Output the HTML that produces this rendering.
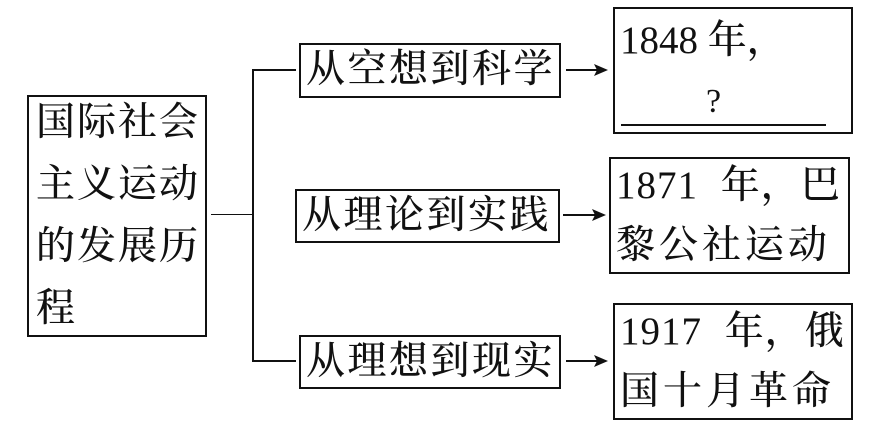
<!DOCTYPE html>
<html><head><meta charset="utf-8"><style>
body{margin:0;width:880px;height:426px;background:#fff;position:relative;overflow:hidden;font-family:"Liberation Serif","Noto Serif CJK SC",serif;color:#111}
.b{position:absolute;border:2px solid #111;box-sizing:border-box}
.t{position:absolute;font-size:39px;line-height:40px;white-space:nowrap;font-weight:500}
.l{position:absolute;background:#111}
</style></head><body>
<div class="b" style="left:27px;top:95px;width:180px;height:242px"></div>
<div class="t" style="left:36px;top:103px;letter-spacing:2px">国际社会</div>
<div class="t" style="left:36px;top:165px;letter-spacing:2px">主义运动</div>
<div class="t" style="left:36px;top:227px;letter-spacing:2px">的发展历</div>
<div class="t" style="left:36px;top:289px">程</div>

<div class="l" style="left:211px;top:214px;width:42px;height:1px"></div>
<div class="l" style="left:252px;top:69px;width:2px;height:293px"></div>
<div class="l" style="left:252px;top:69px;width:44px;height:2px"></div>
<div class="l" style="left:252px;top:360px;width:44px;height:2px"></div>

<div class="b" style="left:299px;top:43px;width:262px;height:55px"></div>
<div class="t" style="left:306px;top:50px;letter-spacing:2.5px">从空想到科学</div>
<div class="b" style="left:295px;top:189px;width:265px;height:54px"></div>
<div class="t" style="left:302px;top:196px;letter-spacing:2.5px">从理论到实践</div>
<div class="b" style="left:299px;top:335px;width:262px;height:54px"></div>
<div class="t" style="left:306px;top:342px;letter-spacing:2.5px">从理想到现实</div>

<svg style="position:absolute;left:0;top:0" width="880" height="426">
<g stroke="#111" stroke-width="2" fill="#111">
<line x1="566" y1="70" x2="598" y2="70"/><polygon points="608,70 594,64 597,70 594,76" stroke="none"/>
<line x1="563" y1="215" x2="596" y2="215"/><polygon points="606,215 592,209 595,215 592,221" stroke="none"/>
<line x1="566" y1="361" x2="598" y2="361"/><polygon points="608,361 594,355 597,361 594,367" stroke="none"/>
</g></svg>

<div class="b" style="left:613px;top:7px;width:240px;height:127px"></div>
<div class="t" style="left:620px;top:21px">1848 年，</div>
<div class="t" style="left:706px;top:82px;font-size:34px">?</div>
<div class="l" style="left:621px;top:124px;width:205px;height:2px"></div>

<div class="b" style="left:609px;top:157px;width:241px;height:117px"></div>
<div class="t" style="left:616px;top:166px;word-spacing:12px;letter-spacing:1px">1871 年，巴</div>
<div class="t" style="left:616px;top:226px;letter-spacing:4px">黎公社运动</div>

<div class="b" style="left:613px;top:303px;width:240px;height:117px"></div>
<div class="t" style="left:620px;top:312px;word-spacing:12px;letter-spacing:1px">1917 年，俄</div>
<div class="t" style="left:620px;top:372px;letter-spacing:4px">国十月革命</div>
</body></html>
